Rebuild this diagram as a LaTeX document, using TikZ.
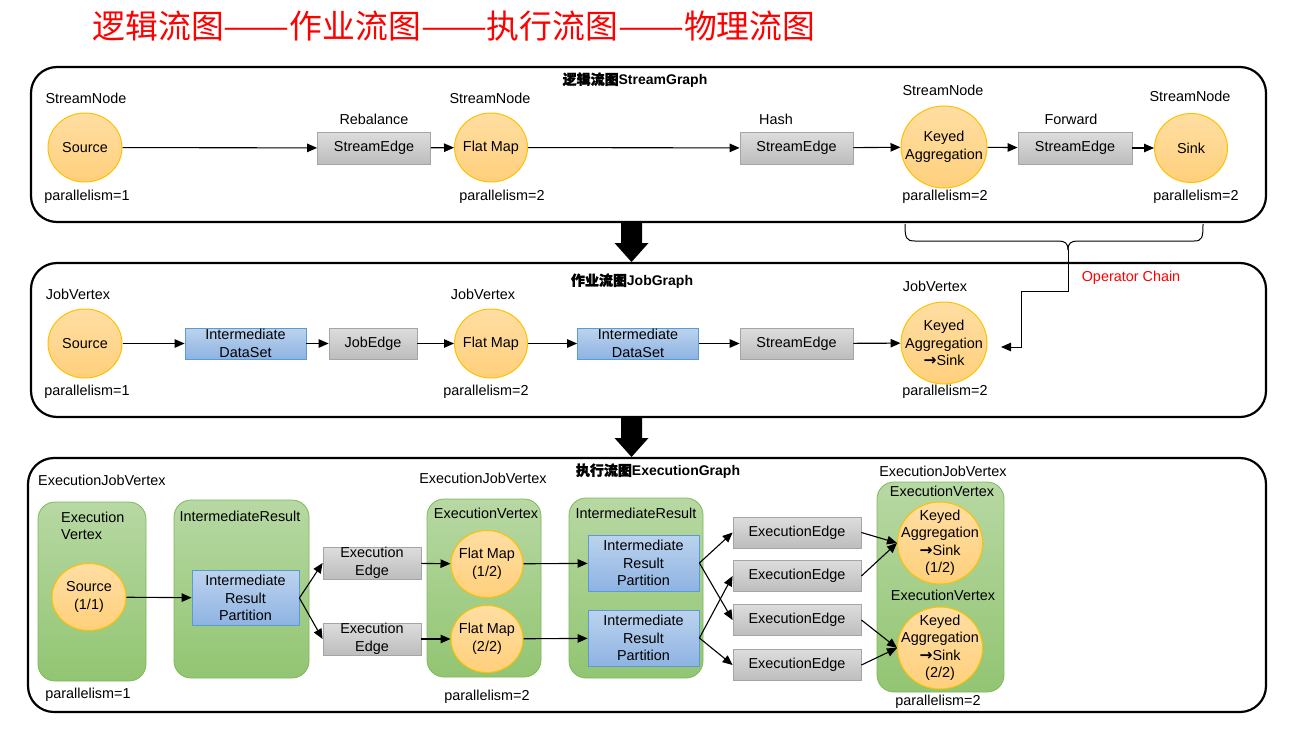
\documentclass[tikz,border=0pt]{standalone}
\usepackage{fontspec}
\setmainfont{Liberation Sans}
\newfontfamily\cjk{Noto Sans CJK SC}
\newfontfamily\cjkb[FakeBold=1.5]{Noto Sans CJK SC}
\newfontfamily\djv{DejaVu Sans}
\newcommand{\tosink}{{\djv\bfseries\fontsize{15.5}{17.5}\selectfont →}Sink}
\usetikzlibrary{shapes.geometric,arrows.meta}
\definecolor{goldline}{HTML}{FFC000}
\definecolor{ellT}{HTML}{FFDEA2}
\definecolor{ellB}{HTML}{FFD07C}
\definecolor{grayT}{HTML}{DDDDDD}
\definecolor{grayB}{HTML}{BDBDBD}
\definecolor{grayline}{HTML}{A5A5A5}
\definecolor{blueT}{HTML}{BCD3EE}
\definecolor{blueB}{HTML}{8EB3E2}
\definecolor{blueline}{HTML}{5B9BD5}
\definecolor{greenT}{HTML}{B7D8A3}
\definecolor{greenB}{HTML}{92C572}
\definecolor{greenline}{HTML}{7DB95A}
\begin{document}
\begin{tikzpicture}[x=1pt,y=-1pt,
  txt/.style={font=\fontsize{14.4}{17.5}\selectfont, inner sep=0pt, align=center},
  ell/.style={ellipse, draw=goldline, line width=1pt, top color=ellT, bottom color=ellB,
    inner xsep=-22pt, inner ysep=-16pt, align=center, font=\fontsize{14.4}{17.5}\selectfont},
  graybox/.style={rectangle, draw=grayline, line width=0.8pt, top color=grayT, bottom color=grayB,
    inner sep=0pt, align=center, font=\fontsize{14.4}{17.5}\selectfont},
  bluebox/.style={rectangle, draw=blueline, line width=0.8pt, top color=blueT, bottom color=blueB,
    inner sep=0pt, align=center, font=\fontsize{14.4}{17.5}\selectfont},
  greenbox/.style={rectangle, rounded corners=17pt, draw=greenline, line width=0.8pt,
    top color=greenT, bottom color=greenB, inner sep=0pt},
  panel/.style={draw=black, line width=2.2pt, rounded corners=26pt},
  ptitle/.style={font=\fontsize{14}{17}\selectfont\bfseries, inner sep=0pt},
  arr/.style={-{Triangle[length=10pt,width=8.5pt]}, line width=1.1pt},
]
\useasboundingbox (0,0) rectangle (1313,736);
\fill[white] (0,0) rectangle (1313,736);

% title
\node[font=\cjk\fontsize{32.8}{36}\selectfont, text=red, inner sep=0pt] (title) at (454,26)
  {逻辑流图\scalebox{1.2}[1]{——}作业流图\scalebox{1.2}[1]{——}执行流图\scalebox{1.2}[1]{——}物理流图};

% fat arrows
\fill (621,222) -- (642,222) -- (642,243) -- (648.5,243) -- (631.5,262) -- (614.5,243) -- (621,243) -- cycle;
\fill (621,417) -- (642,417) -- (642,438) -- (648.5,438) -- (631.5,457) -- (614.5,438) -- (621,438) -- cycle;

% panels
\draw[panel] (31,67) rectangle (1266,222);
\draw[panel] (31,263) rectangle (1266,417);
\draw[panel] (28,458) rectangle (1266,712);

\node[ptitle] (t1) at (635,80) {{\cjkb 逻辑流图}StreamGraph};
\node[ptitle] (t2) at (632,281) {{\cjkb 作业流图}JobGraph};
\node[ptitle] (t3) at (658,471) {{\cjkb 执行流图}ExecutionGraph};

% ---------------- Panel 1: StreamGraph
\node[ell, minimum width=74pt, minimum height=69pt] (s1) at (85,147.5) {Source};
\node[graybox, minimum width=113pt, minimum height=32pt] (sb1) at (374,148) {StreamEdge};
\node[ell, minimum width=73pt, minimum height=69pt] (f1) at (491,147.5) {Flat Map};
\node[graybox, minimum width=113pt, minimum height=32pt] (sb2) at (796.5,148) {StreamEdge};
\node[ell, minimum width=86pt, minimum height=82pt] (k1) at (944,147) {Keyed\\Aggregation};
\node[graybox, minimum width=114pt, minimum height=32pt] (sb3) at (1075,148) {StreamEdge};
\node[ell, minimum width=73pt, minimum height=69pt] (sk1) at (1191,148) {Sink};

\node[txt] (l1a) at (86,98) {StreamNode};
\node[txt] (l1b) at (490,98) {StreamNode};
\node[txt] (l1c) at (943,90) {StreamNode};
\node[txt] (l1d) at (1190,96) {StreamNode};
\node[txt] (p1a) at (87,197) {parallelism=1};
\node[txt] (p1b) at (502,197) {parallelism=2};
\node[txt] (p1c) at (945,197) {parallelism=2};
\node[txt] (p1d) at (1196,197) {parallelism=2};
\node[txt] (e1a) at (374,119) {Rebalance};
\node[txt] (e1b) at (776,119) {Hash};
\node[txt] (e1c) at (1071,119) {Forward};

\draw[arr] (s1) -- (sb1);
\draw[arr] (sb1) -- (f1);
\draw[arr] (f1) -- (sb2);
\draw[arr] (sb2) -- (k1);
\draw[arr] (k1) -- (sb3);
\draw[arr] (sb3) -- (sk1);

% operator chain brace
\coordinate (bt) at (1068,250);
\draw[line width=1pt] (905,224) .. controls (905,238) and (906,241) .. (915,241) -- (1058,241)
  .. controls (1065,241) and (1068,243) .. (bt);
\draw[line width=1pt] (1203,224) .. controls (1203,238) and (1202,241) .. (1194,241) -- (1078,241)
  .. controls (1071,241) and (1068,243) .. (bt);

% ---------------- Panel 2: JobGraph
\node[ell, minimum width=74pt, minimum height=69pt] (s2) at (85,343.5) {Source};
\node[bluebox, minimum width=121pt, minimum height=31pt] (ids1) at (245.5,343.5) {Intermediate\\DataSet};
\node[graybox, minimum width=88pt, minimum height=31pt] (je) at (373,343.5) {JobEdge};
\node[ell, minimum width=73pt, minimum height=69pt] (f2) at (491,343.5) {Flat Map};
\node[bluebox, minimum width=121pt, minimum height=31pt] (ids2) at (638,343.5) {Intermediate\\DataSet};
\node[graybox, minimum width=113pt, minimum height=31pt] (se2) at (796.5,343.5) {StreamEdge};
\node[ell, minimum width=86pt, minimum height=82pt] (k2) at (944,343) {Keyed\\Aggregation\\\tosink};

\node[txt] (l2a) at (78,294) {JobVertex};
\node[txt] (l2b) at (483,294) {JobVertex};
\node[txt] (l2c) at (935,286) {JobVertex};
\node[txt] (p2a) at (87,392) {parallelism=1};
\node[txt] (p2b) at (486,392) {parallelism=2};
\node[txt] (p2c) at (945,392) {parallelism=2};
\node[txt, text=red] (oc) at (1131,278) {Operator Chain};

\draw[arr] (s2) -- (ids1);
\draw[arr] (ids1) -- (je);
\draw[arr] (je) -- (f2);
\draw[arr] (f2) -- (ids2);
\draw[arr] (ids2) -- (se2);
\draw[arr] (se2) -- (k2);

\coordinate (ocend) at (1001,347);
\draw[-{Triangle[length=10pt,width=8.5pt]}, line width=1pt] (bt) |- (1021,291) |- (ocend);

% ---------------- Panel 3: ExecutionGraph
\node[greenbox, minimum width=108pt, minimum height=179pt] (g1) at (92,591.5) {};
\node[greenbox, minimum width=135pt, minimum height=178pt] (g2) at (241.5,589) {};
\node[greenbox, minimum width=114pt, minimum height=178pt] (g3) at (484,588) {};
\node[greenbox, minimum width=134pt, minimum height=180pt] (g4) at (636,588) {};
\node[greenbox, minimum width=127pt, minimum height=210pt] (g5) at (940.5,587) {};

\node[txt, anchor=west] (x1) at (38,480) {ExecutionJobVertex};
\node[txt] (x2) at (483,478) {ExecutionJobVertex};
\node[txt] (x3) at (943,471) {ExecutionJobVertex};
\node[txt, anchor=west, align=left] (ev1) at (61,526) {Execution\\Vertex};
\node[txt] (ir1) at (240,516) {IntermediateResult};
\node[txt] (ev2) at (486,513) {ExecutionVertex};
\node[txt] (ir2) at (636,513) {IntermediateResult};
\node[txt] (ev3) at (942,491) {ExecutionVertex};
\node[txt] (ev4) at (943,595) {ExecutionVertex};
\node[txt] (p3a) at (88,695) {parallelism=1};
\node[txt] (p3b) at (487,697) {parallelism=2};
\node[txt] (p3c) at (938,702) {parallelism=2};

\node[ell, minimum width=74pt, minimum height=67pt] (s3) at (89,597) {Source\\(1/1)};
\node[bluebox, minimum width=107pt, minimum height=55pt] (irp0) at (245.5,598) {Intermediate\\Result\\Partition};
\node[graybox, minimum width=98pt, minimum height=32pt] (ee1) at (372,563) {Execution\\Edge};
\node[graybox, minimum width=98pt, minimum height=32pt] (ee2) at (372,639) {Execution\\Edge};
\node[ell, minimum width=72pt, minimum height=67pt] (fm1) at (487,564) {Flat Map\\(1/2)};
\node[ell, minimum width=72pt, minimum height=67pt] (fm2) at (487,639) {Flat Map\\(2/2)};
\node[bluebox, minimum width=111pt, minimum height=56pt] (irp1) at (643.5,563) {Intermediate\\Result\\Partition};
\node[bluebox, minimum width=111pt, minimum height=56pt] (irp2) at (643.5,638) {Intermediate\\Result\\Partition};
\node[graybox, minimum width=128pt, minimum height=31pt] (eea) at (797,532.5) {ExecutionEdge};
\node[graybox, minimum width=128pt, minimum height=31pt] (eeb) at (797,576) {ExecutionEdge};
\node[graybox, minimum width=128pt, minimum height=31pt] (eec) at (797,620) {ExecutionEdge};
\node[graybox, minimum width=128pt, minimum height=31pt] (eed) at (797,665) {ExecutionEdge};
\node[ell, minimum width=85pt, minimum height=82pt] (ka1) at (940,543) {Keyed\\Aggregation\\\tosink\\(1/2)};
\node[ell, minimum width=85pt, minimum height=82pt] (ka2) at (940,648) {Keyed\\Aggregation\\\tosink\\(2/2)};

\draw[arr] (s3) -- (irp0);
\draw[arr] (irp0.east) -- (ee1.west);
\draw[arr] (irp0.east) -- (ee2.west);
\draw[arr] (ee1) -- (fm1);
\draw[arr] (ee2) -- (fm2);
\draw[arr] (fm1) -- (irp1);
\draw[arr] (fm2) -- (irp2);
\draw[arr] (irp1.east) -- (eea.west);
\draw[arr] (irp1.east) -- (eec.west);
\draw[arr] (irp2.east) -- (eeb.west);
\draw[arr] (irp2.east) -- (eed.west);
\draw[arr] (eea.east) -- (ka1.west);
\draw[arr] (eeb.east) -- (ka1.west);
\draw[arr] (eec.east) -- (ka2.west);
\draw[arr] (eed.east) -- (ka2.west);
\end{tikzpicture}
\end{document}
